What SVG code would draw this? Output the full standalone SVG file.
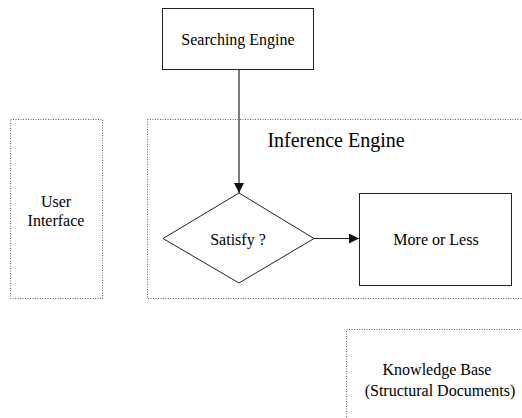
<svg xmlns="http://www.w3.org/2000/svg" width="522" height="418" viewBox="0 0 522 418">
<defs>
<style>
text{font-family:"Liberation Serif","Times New Roman",serif;fill:#000;text-anchor:middle;font-size:16px}
.dot{fill:none;stroke:#666;stroke-width:1;stroke-dasharray:1 1.5}
.solid{fill:#fff;stroke:#222;stroke-width:1}
.conn{stroke:#222;stroke-width:1.2;fill:none}
</style>
<marker id="ah" viewBox="0 0 10 10" refX="10" refY="5" markerWidth="10" markerHeight="10" markerUnits="userSpaceOnUse" orient="auto">
<path d="M0,0 L10,5 L0,10 z" fill="#111"/>
</marker>
</defs>
<rect width="522" height="418" fill="#fff"/>
<g id="user-interface">
<rect class="dot" x="10.5" y="119.5" width="92" height="179"/>
<text x="56" y="207">User</text>
<text x="56" y="226">Interface</text>
</g>
<g id="inference-engine">
<rect class="dot" x="147.5" y="119.5" width="380" height="179"/>
<text x="336" y="147" style="font-size:20px">Inference Engine</text>
</g>
<g id="knowledge-base">
<rect class="dot" x="346.5" y="329.5" width="180" height="100"/>
<text x="437" y="375">Knowledge Base</text>
<text x="440" y="396">(Structural Documents)</text>
</g>
<g id="searching-engine">
<rect class="solid" x="162.5" y="8.5" width="151" height="61"/>
<text x="238" y="45">Searching Engine</text>
</g>
<g id="satisfy">
<polygon class="solid" points="239,193 314,238.5 239,283 163,238.5"/>
<text x="238" y="245">Satisfy ?</text>
</g>
<g id="more-or-less">
<rect class="solid" x="359.5" y="193.5" width="152" height="92"/>
<text x="436" y="245">More or Less</text>
</g>
<g id="connectors">
<line class="conn" x1="239" y1="69" x2="239" y2="193" marker-end="url(#ah)"/>
<line class="conn" x1="314" y1="238.5" x2="359" y2="238.5" marker-end="url(#ah)"/>
</g>
</svg>
